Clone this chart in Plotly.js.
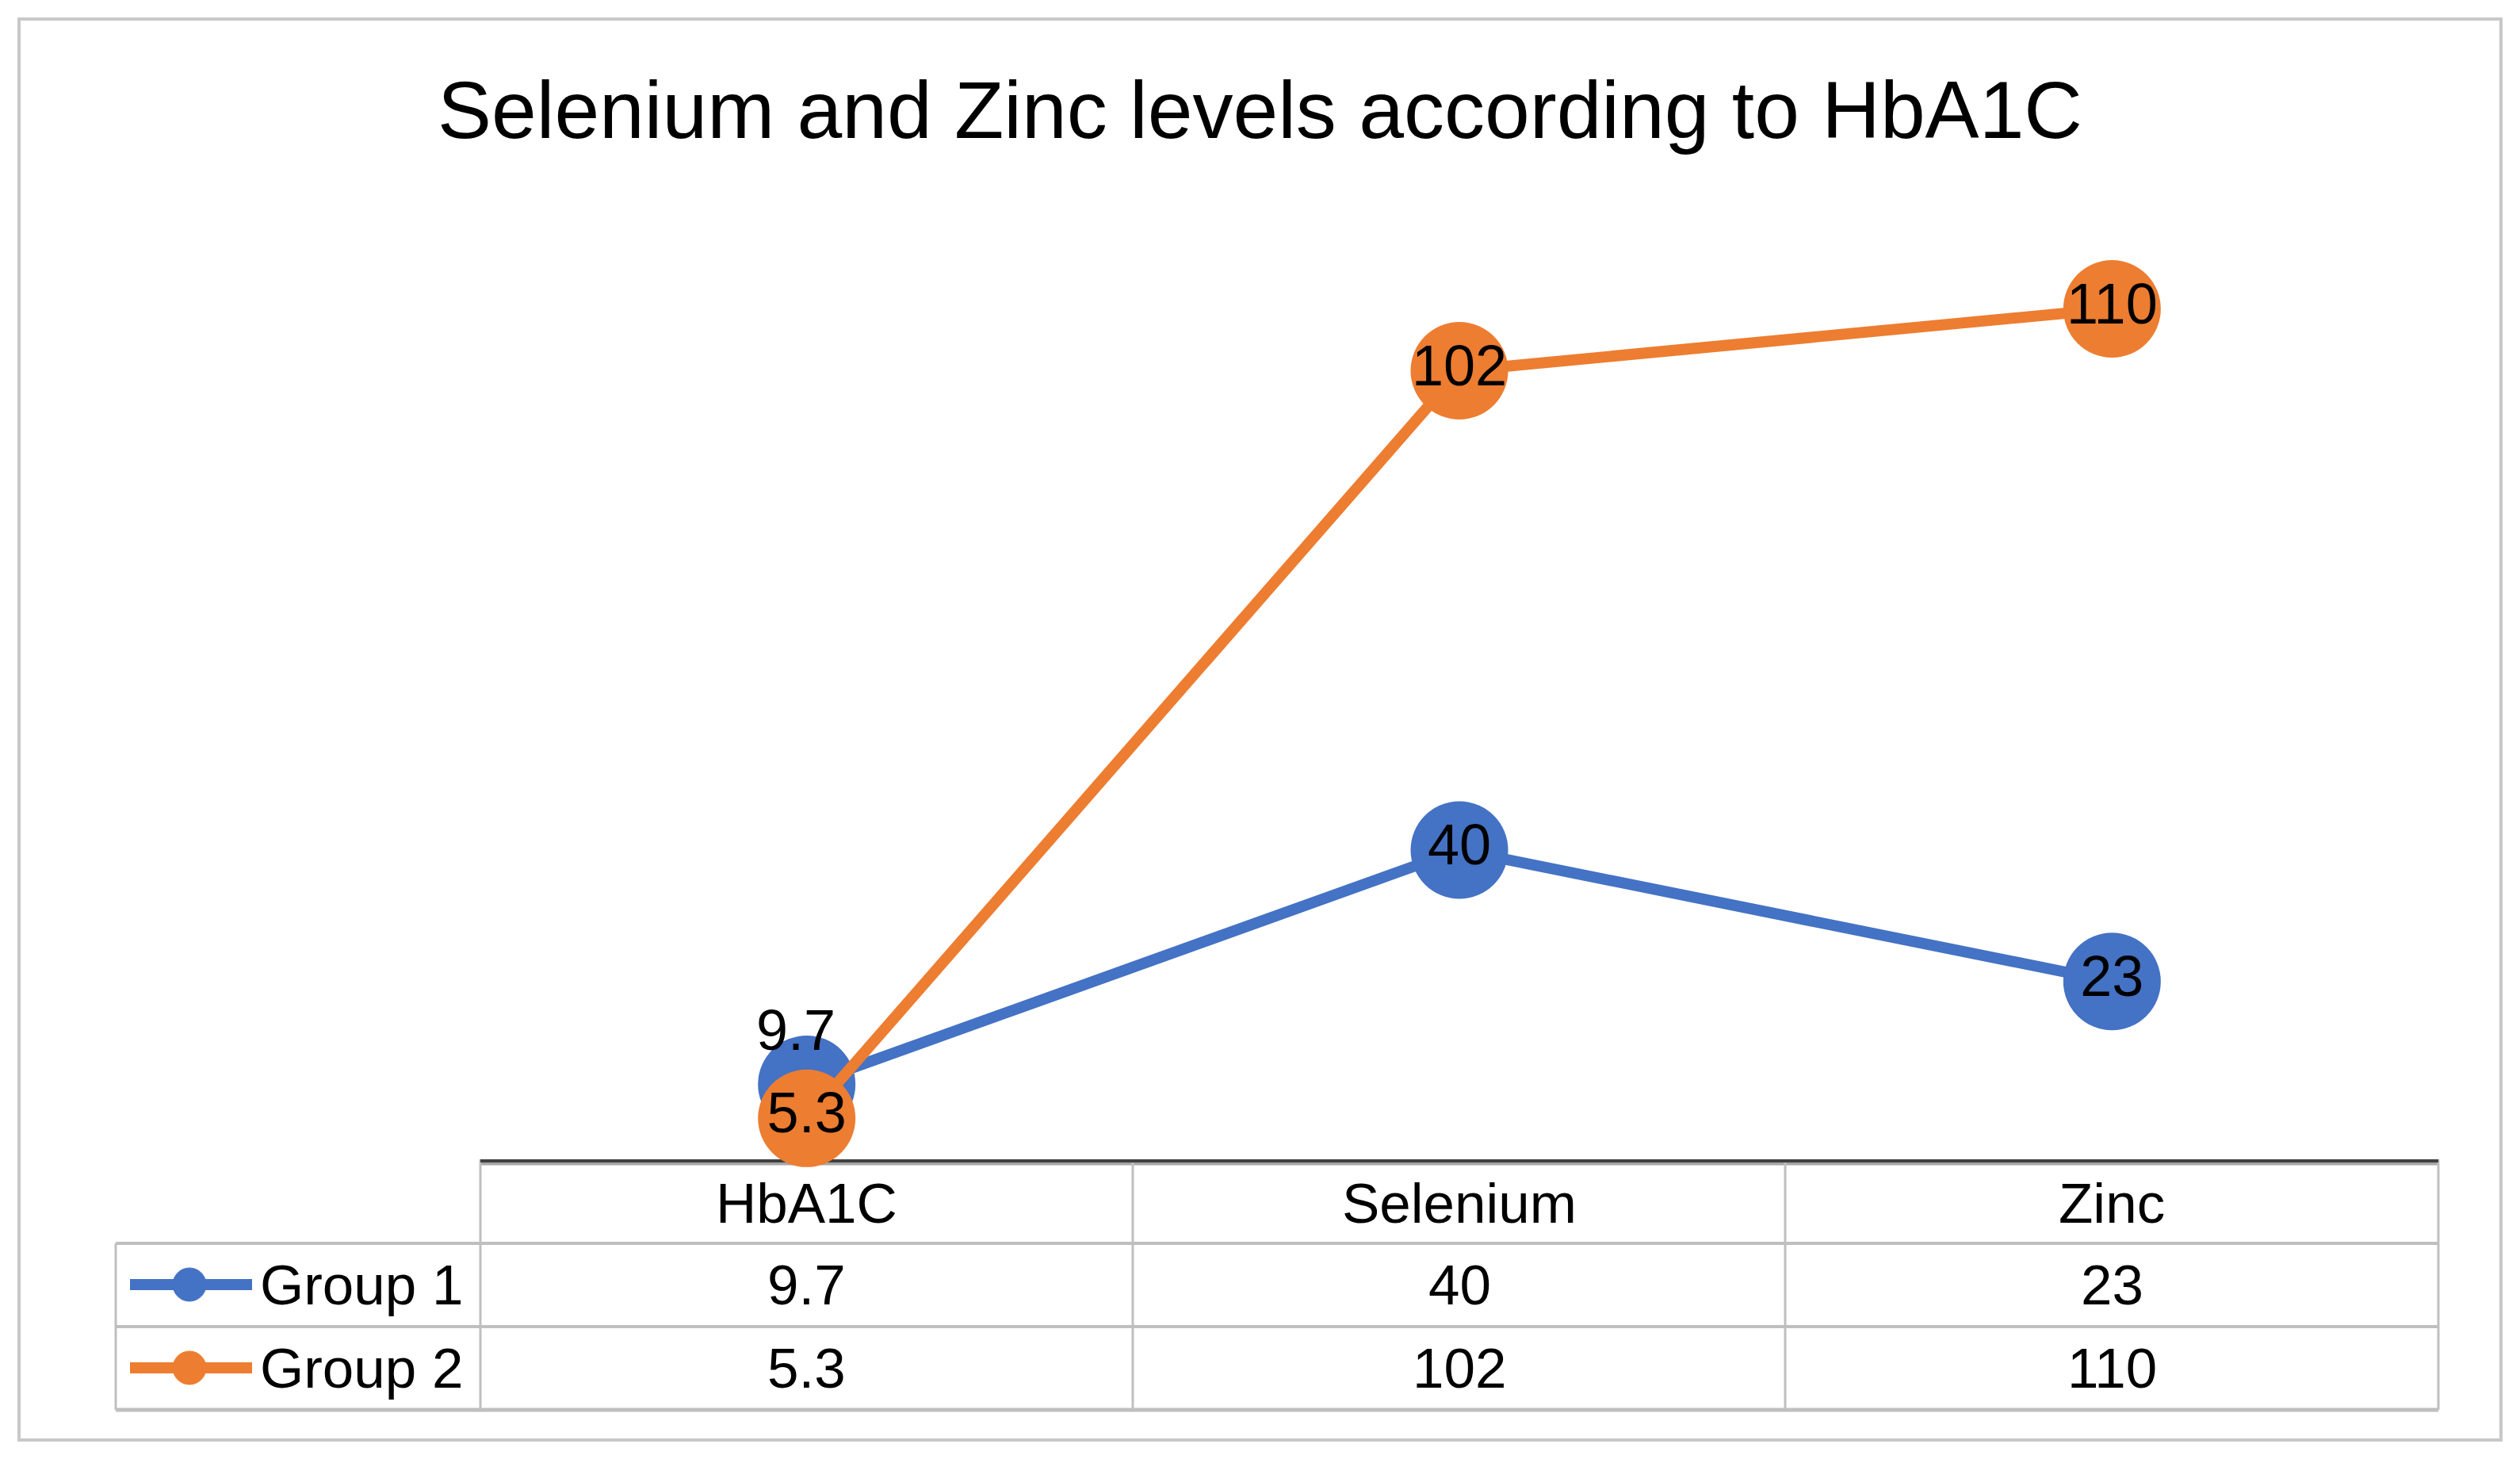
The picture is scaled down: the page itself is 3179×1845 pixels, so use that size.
<!DOCTYPE html>
<html>
<head>
<meta charset="utf-8">
<script src="https://cdn.plot.ly/plotly-3.0.1.min.js"></script>
<style>
  html, body { margin: 0; padding: 0; background: #ffffff; }
  #chart { width: 3179px; height: 1845px; }
</style>
</head>
<body>
<div id="chart"></div>
<script>
// ---- data ----
const categories = ['HbA1C', 'Selenium', 'Zinc'];
const seriesNames = ['Group 1', 'Group 2'];
const group1 = [9.7, 40, 23];
const group2 = [5.3, 102, 110];
const titleText = 'Selenium and Zinc levels according to HbA1C';

// ---- layout helpers (pixel -> paper) ----
const W = 3179, H = 1845;
const L = 606, R = 3076, T = 292, B = 1462;
const px = x => (x - L) / (R - L);
const py = y => (B - y) / (B - T);

const FONT = 'Liberation Sans, Arial, sans-serif';
const colors = ['#4472C4', '#ED7D31'];
const allSeries = [group1, group2];

const traces = allSeries.map((vals, i) => ({
  type: 'scatter',
  mode: 'lines+markers+text',
  name: seriesNames[i],
  x: categories,
  y: vals,
  // first Group 1 label is drawn as an offset annotation (placed above its marker)
  text: vals.map((v, j) => (i === 0 && j === 0) ? '' : String(v)),
  textposition: 'middle center',
  textfont: { family: FONT, size: 72, color: '#000000' },
  line: { color: colors[i], width: 14 },
  marker: { color: colors[i], size: 123 },
  cliponaxis: false,
  hoverinfo: 'none'
}));

const grey = '#bfbfbf';
const shapes = [];
function hline(y, x0, x1, color, w) {
  shapes.push({ type: 'line', xref: 'paper', yref: 'paper', x0: px(x0), x1: px(x1), y0: py(y), y1: py(y),
    line: { color: color, width: w }, layer: 'below' });
}
function vline(x, y0, y1, color, w) {
  shapes.push({ type: 'line', xref: 'paper', yref: 'paper', x0: px(x), x1: px(x), y0: py(y0), y1: py(y1),
    line: { color: color, width: w }, layer: 'below' });
}
// outer border
shapes.push({ type: 'rect', xref: 'paper', yref: 'paper', x0: px(24), x1: px(3155), y0: py(24), y1: py(1816),
  line: { color: '#c8c8c8', width: 4 }, layer: 'below' });
// table grid
hline(1467, 606, 3076, '#a6a6a6', 5);
hline(1568, 146, 3076, grey, 4);
hline(1673, 146, 3076, grey, 4);
hline(1778, 146, 3076, grey, 5);
vline(146, 1568, 1778, grey, 3);
[606, 1429, 2252, 3076].forEach(x => vline(x, 1462, 1778, grey, 3));

// legend keys in the table
const rowY = [1620, 1725];
seriesNames.forEach((n, i) => {
  shapes.push({ type: 'line', xref: 'paper', yref: 'paper', x0: px(164), x1: px(318), y0: py(rowY[i]), y1: py(rowY[i]),
    line: { color: colors[i], width: 14 }, layer: 'above' });
  shapes.push({ type: 'circle', xref: 'paper', yref: 'paper', x0: px(218), x1: px(260), y0: py(rowY[i] - 21), y1: py(rowY[i] + 21),
    fillcolor: colors[i], line: { color: colors[i], width: 1 }, layer: 'above' });
});

const annotations = [];
// data label for first Group 1 point, sitting above its marker
annotations.push({
  x: categories[0], xref: 'x', y: group1[0], yref: 'y', text: String(group1[0]), showarrow: false,
  xanchor: 'center', yanchor: 'middle', xshift: -14, yshift: 68,
  font: { family: FONT, size: 72, color: '#000000' }
});
// header row
categories.forEach(c => annotations.push({
  x: c, xref: 'x', y: py(1517), yref: 'paper', text: c, showarrow: false,
  xanchor: 'center', yanchor: 'middle', font: { family: FONT, size: 71, color: '#000000' }
}));
// data rows
allSeries.forEach((vals, i) => {
  annotations.push({
    x: px(326), xref: 'paper', y: py(rowY[i]), yref: 'paper', text: seriesNames[i], showarrow: false,
    xanchor: 'left', yanchor: 'middle', font: { family: FONT, size: 71, color: '#000000' }
  });
  vals.forEach((v, j) => annotations.push({
    x: categories[j], xref: 'x', y: py(rowY[i]), yref: 'paper', text: String(v), showarrow: false,
    xanchor: 'center', yanchor: 'middle', font: { family: FONT, size: 71, color: '#000000' }
  }));
});

const layout = {
  width: W, height: H,
  margin: { l: L, r: W - R, t: T, b: H - B, pad: 0 },
  paper_bgcolor: '#ffffff', plot_bgcolor: '#ffffff',
  showlegend: false,
  title: {
    text: titleText, x: 0.5, xanchor: 'center', xref: 'container',
    y: 1 - 138 / H, yref: 'container', yanchor: 'middle',
    font: { family: FONT, size: 102, color: '#000000' }
  },
  xaxis: {
    type: 'category', range: [-0.5, 2.5], showgrid: false, zeroline: false,
    showticklabels: false, ticks: '', showline: true, linecolor: '#404040', linewidth: 4,
    layer: 'below traces', fixedrange: true
  },
  yaxis: {
    range: [0, 120], visible: false, showgrid: false, zeroline: false, fixedrange: true
  },
  shapes: shapes,
  annotations: annotations
};

Plotly.newPlot('chart', traces, layout, { displayModeBar: false, staticPlot: true });
</script>
</body>
</html>
